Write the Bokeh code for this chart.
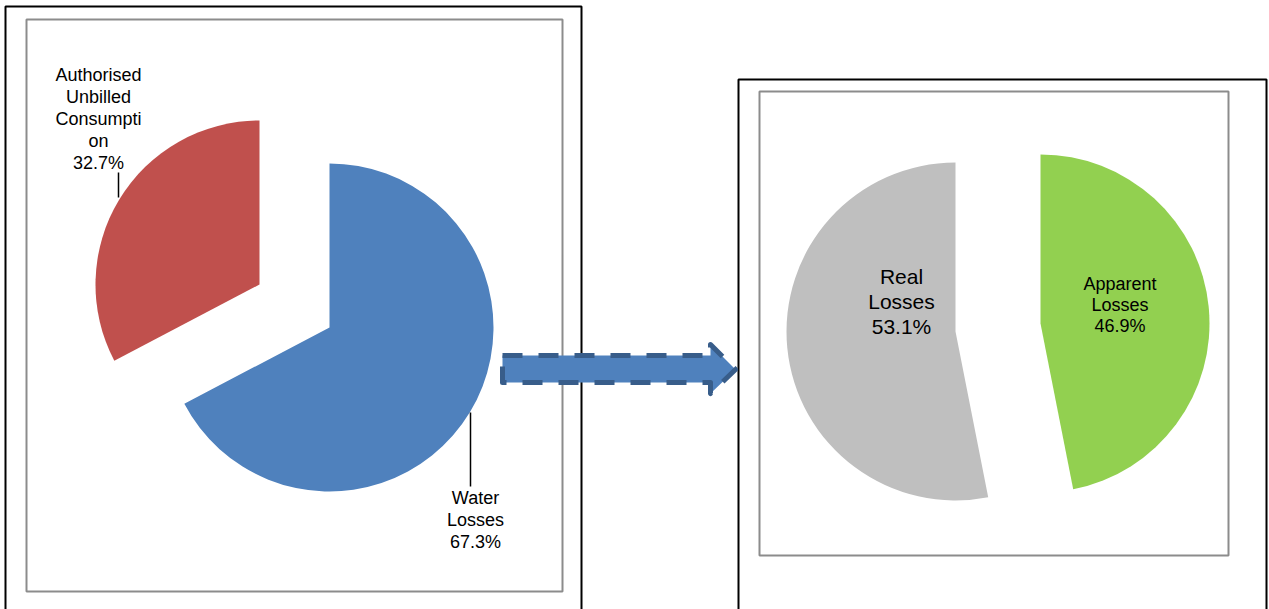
from bokeh.plotting import figure
from bokeh.models import Range1d
from bokeh.core.properties import value
from bokeh.embed import file_html
from bokeh.resources import INLINE
import numpy as np

# ---- data ----
left_labels = ["Water\nLosses\n67.3%", "Authorised\nUnbilled\nConsumpti\non\n32.7%"]
left_values = [67.3, 32.7]
left_colors = ["#4F81BD", "#C0504D"]

right_labels = ["Apparent\nLosses\n46.9%", "Real\nLosses\n53.1%"]
right_values = [46.9, 53.1]
right_colors = ["#92D050", "#BFBFBF"]

W, H = 1269, 609
FONT = "Liberation Sans"

p = figure(width=W, height=H, output_backend="svg", toolbar_location=None,
           x_range=Range1d(0, W), y_range=Range1d(0, H), min_border=0)
p.axis.visible = False
p.grid.visible = False
p.outline_line_color = None
p.background_fill_color = "white"
p.border_fill_color = "white"


def Y(y):
    # convert from top-down pixel position to data y
    return H - y


# ---- frames ----
p.quad(left=[5, 738], right=[581, 1266], top=[Y(6), Y(79)], bottom=[Y(640), Y(640)],
       fill_color=None, line_color="black", line_width=2)
p.quad(left=[26, 759], right=[562, 1228], top=[Y(19), Y(91)], bottom=[Y(591), Y(555)],
       fill_color=None, line_color="#8C8C8C", line_width=2)


def pie(values, colors, centers, radius):
    fr = np.array(values) / np.sum(values)
    start = np.pi / 2 - 2 * np.pi * np.concatenate([[0], np.cumsum(fr)[:-1]])
    end = start - 2 * np.pi * fr
    p.wedge(x=[c[0] for c in centers], y=[Y(c[1]) for c in centers], radius=radius,
            start_angle=list(start), end_angle=list(end), direction="clock",
            fill_color=colors, line_color=None)


# left pie: Water Losses (blue), exploded Authorised Unbilled Consumption (red)
pie(left_values, left_colors, [(329, 327), (259, 284)], 164)
# right pie: Apparent Losses (green), Real Losses (grey)
pie(right_values, right_colors, [(1040, 323), (955, 331)], 169)

# leader lines
p.segment(x0=[118, 470], y0=[Y(172), Y(412)], x1=[118, 470], y1=[Y(197), Y(486)],
          line_color="black", line_width=1.5)

# arrow
ax = [502, 710, 710, 735, 710, 710, 502]
ay = [355, 355, 344, 369, 393, 382, 382]
p.patch(x=ax, y=[Y(v) for v in ay], fill_color="#4F81BD", line_color="#385D8A",
        line_width=5, line_dash="20 16", line_join="round")

# labels
p.text(x=[98], y=[Y(118.5)], text=[left_labels[1]],
       text_font=value(FONT), text_font_size="18px", text_align="center",
       text_baseline="middle", text_color="black", text_line_height=1.09)
p.text(x=[475], y=[Y(519.5)], text=[left_labels[0]],
       text_font=value(FONT), text_font_size="18px", text_align="center",
       text_baseline="middle", text_color="black", text_line_height=1.1)
p.text(x=[1119.5], y=[Y(304.5)], text=[right_labels[0]],
       text_font=value(FONT), text_font_size="18px", text_align="center",
       text_baseline="middle", text_color="black", text_line_height=1.07)
p.text(x=[901], y=[Y(301)], text=[right_labels[1]],
       text_font=value(FONT), text_font_size="21px", text_align="center",
       text_baseline="middle", text_color="black", text_line_height=1.1)

open("out.html", "w").write(file_html(p, INLINE))
